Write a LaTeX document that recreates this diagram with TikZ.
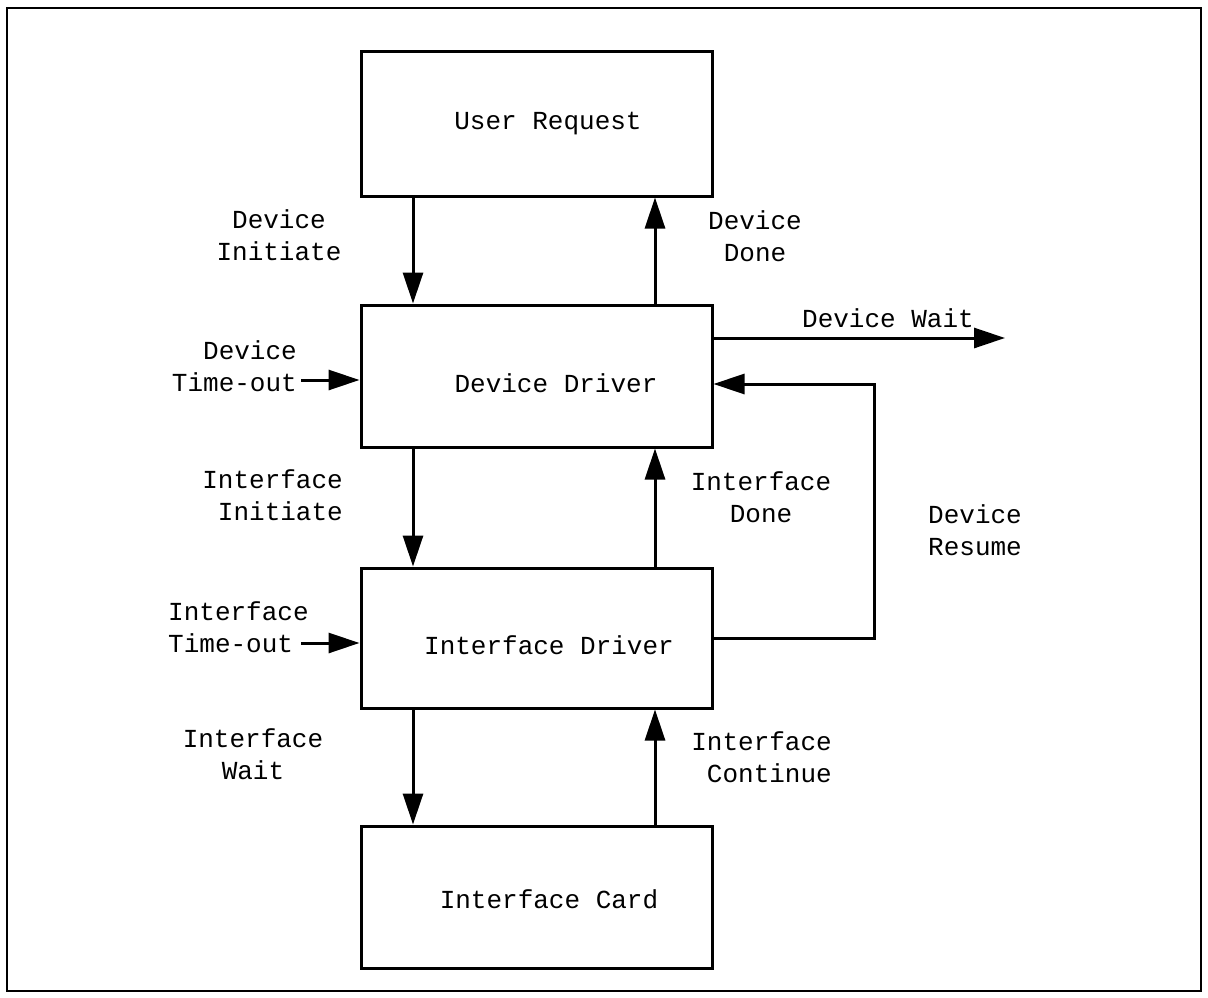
\documentclass[tikz,border=0pt]{standalone}
\usepackage{fontspec}
\setmainfont{Liberation Mono}
\usetikzlibrary{arrows.meta}
\begin{document}
\begin{tikzpicture}[x=1pt,y=-1pt,
  box/.style={draw,line width=3pt,minimum width=351pt,inner sep=0pt},
  arr/.style={line width=3pt,-{Triangle[length=31pt,width=20pt]}},
  conn/.style={line width=3pt},
  lbl/.style={inner sep=0pt,font=\fontsize{26}{32.5}\selectfont},
  lblc/.style={lbl,align=center},
  lblr/.style={lbl,align=right},
  lbll/.style={lbl,align=left}]
\useasboundingbox (0,0) rectangle (1208,998);
\draw[line width=2.5pt] (7,8) rectangle (1201,991);
% boxes
\node[box,minimum height=144pt] (ur) at (536.5,124) {};
\node[box,minimum height=142pt] (dd) at (536.5,376) {};
\node[box,minimum height=140pt] (id) at (536.5,638) {};
\node[box,minimum height=142pt] (ic) at (536.5,897) {};
% box texts
\node[lbl] (urt) at (548,124) {User Request};
\node[lbl] (ddt) at (556,383) {Device Driver};
\node[lbl] (idt) at (549,645) {Interface Driver};
\node[lbl] (ict) at (549,899) {Interface Card};
% vertical arrows
\draw[arr] (413,0 |- ur.south) -- (413,0 |- dd.north);
\draw[arr] (655,0 |- dd.north) -- (655,0 |- ur.south);
\draw[arr] (413,0 |- dd.south) -- (413,0 |- id.north);
\draw[arr] (655,0 |- id.north) -- (655,0 |- dd.south);
\draw[arr] (413,0 |- id.south) -- (413,0 |- ic.north);
\draw[arr] (655,0 |- ic.north) -- (655,0 |- id.south);
% device wait
\coordinate (dw) at (1005,338);
\draw[arr] (dd.east |- dw) -- (dw);
% device resume
\coordinate (rb) at (874,638);
\coordinate (rt) at (874,384);
\draw[arr] (id.east |- rb) -- (rb) -- (rt) -- (dd.east |- rt);
% time-outs
\coordinate (dto) at (301,380);
\coordinate (ito) at (301,643);
\draw[arr] (dto) -- (dd.west |- dto);
\draw[arr] (ito) -- (id.west |- ito);
% labels
\node[lblc] (l1) at (279,235) {Device\\Initiate};
\node[lblc] (l2) at (755,236) {Device\\Done};
\node[lbl] (l3) at (888,318) {Device Wait};
\node[lblr,anchor=east] (l4) at (297,366) {Device\\Time-out};
\node[lblr,anchor=east] (l5) at (343,495) {Interface\\Initiate};
\node[lblc] (l6) at (761,497) {Interface\\Done};
\node[lbll] (l7) at (975,530) {Device\\Resume};
\node[lbll,anchor=west] (l8) at (168,627) {Interface\\Time-out};
\node[lblc] (l9) at (253,754) {Interface\\Wait};
\node[lblr,anchor=east] (l10) at (832,757) {Interface\\Continue};
\end{tikzpicture}
\end{document}
